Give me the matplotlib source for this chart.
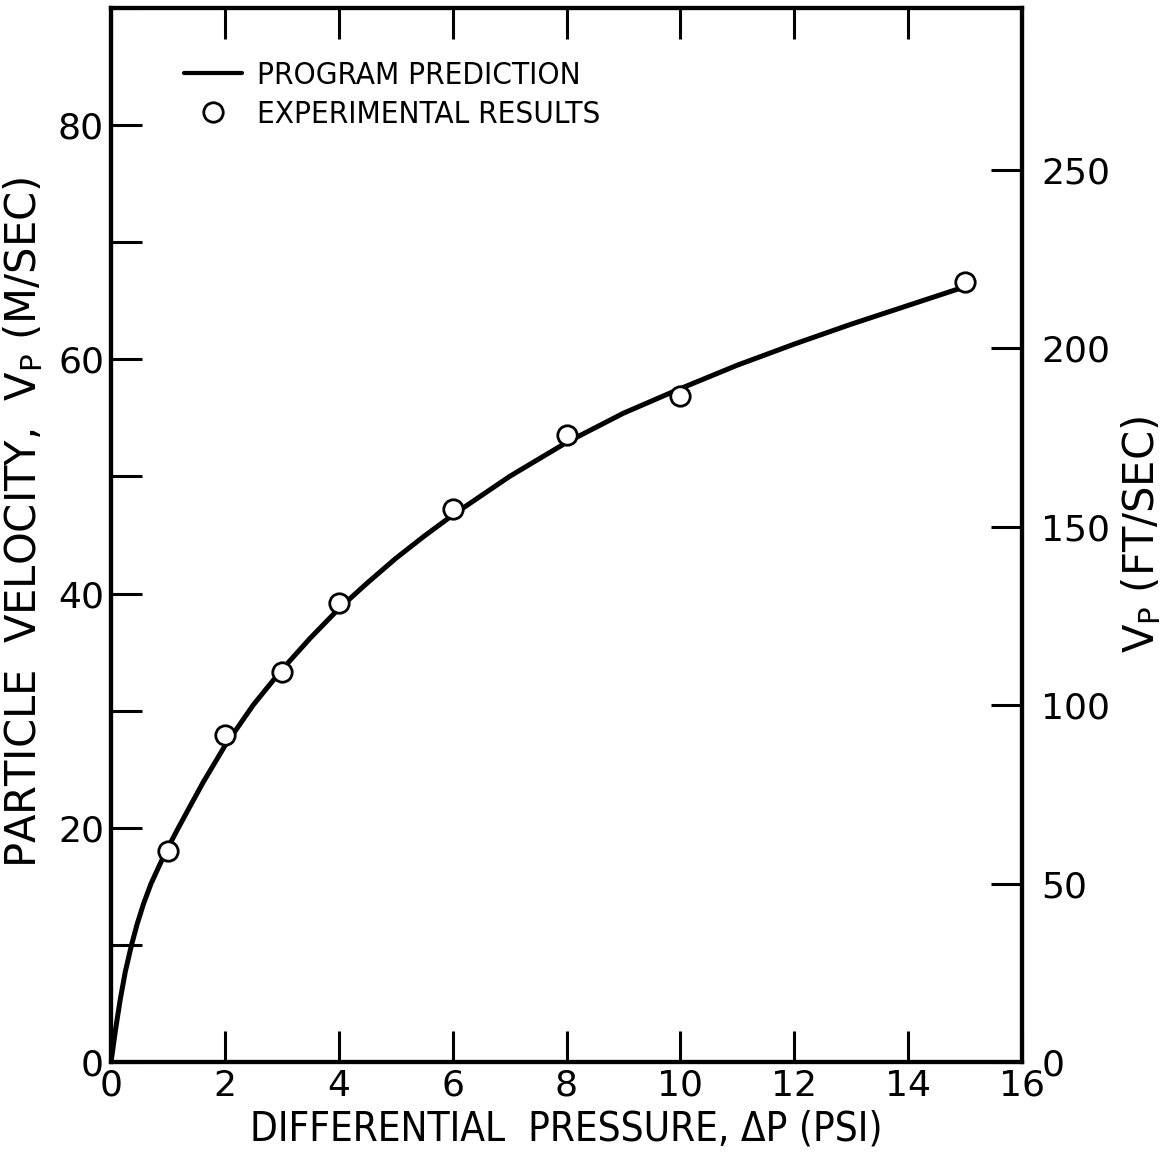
import matplotlib
matplotlib.use("Agg")
import matplotlib.pyplot as plt
from matplotlib.ticker import MultipleLocator

# Data
curve_dp = [0, 0.08, 0.16, 0.25, 0.36, 0.46, 0.57, 0.7, 0.86, 1.0, 1.15, 1.35, 1.62,
            2.0, 2.5, 3.0, 3.5, 4.0, 4.5, 5.0, 5.5, 6.0, 7.0, 8.0, 9.0, 10.0,
            11.0, 12.0, 13.0, 14.0, 15.0]
curve_vp = [0, 2.8, 5.3, 7.7, 10.0, 11.8, 13.5, 15.2, 16.9, 18.3, 19.7, 21.5, 23.9,
            27.0, 30.5, 33.5, 36.2, 38.7, 40.9, 43.0, 44.9, 46.7, 50.0, 52.9, 55.4, 57.5,
            59.5, 61.3, 63.0, 64.6, 66.2]
exp_dp = [1, 2, 3, 4, 6, 8, 10, 15]
exp_vp = [18.0, 27.9, 33.3, 39.2, 47.2, 53.5, 56.9, 66.6]

x_ticks = [0, 2, 4, 6, 8, 10, 12, 14, 16]
left_ticks = [0, 20, 40, 60, 80]
right_ticks = [0, 50, 100, 150, 200, 250]
M_PER_FT = 0.3048

fig = plt.figure(figsize=(11.75, 11.53), dpi=100)
ax = fig.add_axes([0.0945, 0.0789, 0.7753, 0.9142])

ln, = ax.plot(curve_dp, curve_vp, color='black', lw=3.6, solid_capstyle='round',
              solid_joinstyle='round', label='PROGRAM PREDICTION', zorder=2)
mk, = ax.plot(exp_dp, exp_vp, linestyle='none', marker='o', markersize=14,
              markerfacecolor='white', markeredgecolor='black', markeredgewidth=2.0,
              label='EXPERIMENTAL RESULTS', zorder=3)

ax.set_xlim(0, 16)
ax.set_ylim(0, 90)
ax.set_xticks(x_ticks)
ax.set_yticks(left_ticks)
ax.yaxis.set_minor_locator(MultipleLocator(10))
ax.xaxis.set_ticks_position('both')

tickfont = dict(family=['DejaVu Sans'], size=26)
ax.set_xticklabels([str(t) for t in x_ticks], **tickfont)
ax.set_yticklabels([str(t) for t in left_ticks], **tickfont)
ax.tick_params(axis='both', which='both', direction='in', length=22, width=2.2,
               top=True, labeltop=False)
ax.tick_params(axis='x', pad=5)
ax.tick_params(axis='y', pad=5)

for s in ax.spines.values():
    s.set_linewidth(3)

ax2 = ax.twinx()
ax2.set_ylim(0, 90 / M_PER_FT)
ax2.set_yticks(right_ticks)
ax2.set_yticklabels([str(t) for t in right_ticks], **tickfont)
ax2.tick_params(axis='y', direction='in', length=22, width=2.2, pad=14)
for s in ax2.spines.values():
    s.set_linewidth(3)

cond = dict(family=['DejaVu Sans'], stretch='condensed')
ax.set_xlabel('DIFFERENTIAL  PRESSURE, \u0394P (PSI)', size=29, labelpad=5, **cond)
ax.set_ylabel('PARTICLE  VELOCITY,  V$_\\mathregular{P}$ (M/SEC)', family=['DejaVu Sans'],
              size=30, labelpad=4)
ax.yaxis.set_label_coords(-0.072, 0.512)
ax2.set_ylabel('V$_\\mathregular{P}$ (FT/SEC)', family=['DejaVu Sans'], size=30,
               labelpad=6)

leg = ax.legend(handles=[ln, mk], loc='upper left', bbox_to_anchor=(0.080, 0.950),
                frameon=False, prop={'family': ['DejaVu Sans'], 'stretch': 'condensed',
                                     'size': 22.5},
                handlelength=1.85, handletextpad=0.5, labelspacing=0.32,
                borderpad=0, borderaxespad=0)
leg.legend_handles[0].set_linewidth(3)

fig.savefig('out.png', dpi=100)
